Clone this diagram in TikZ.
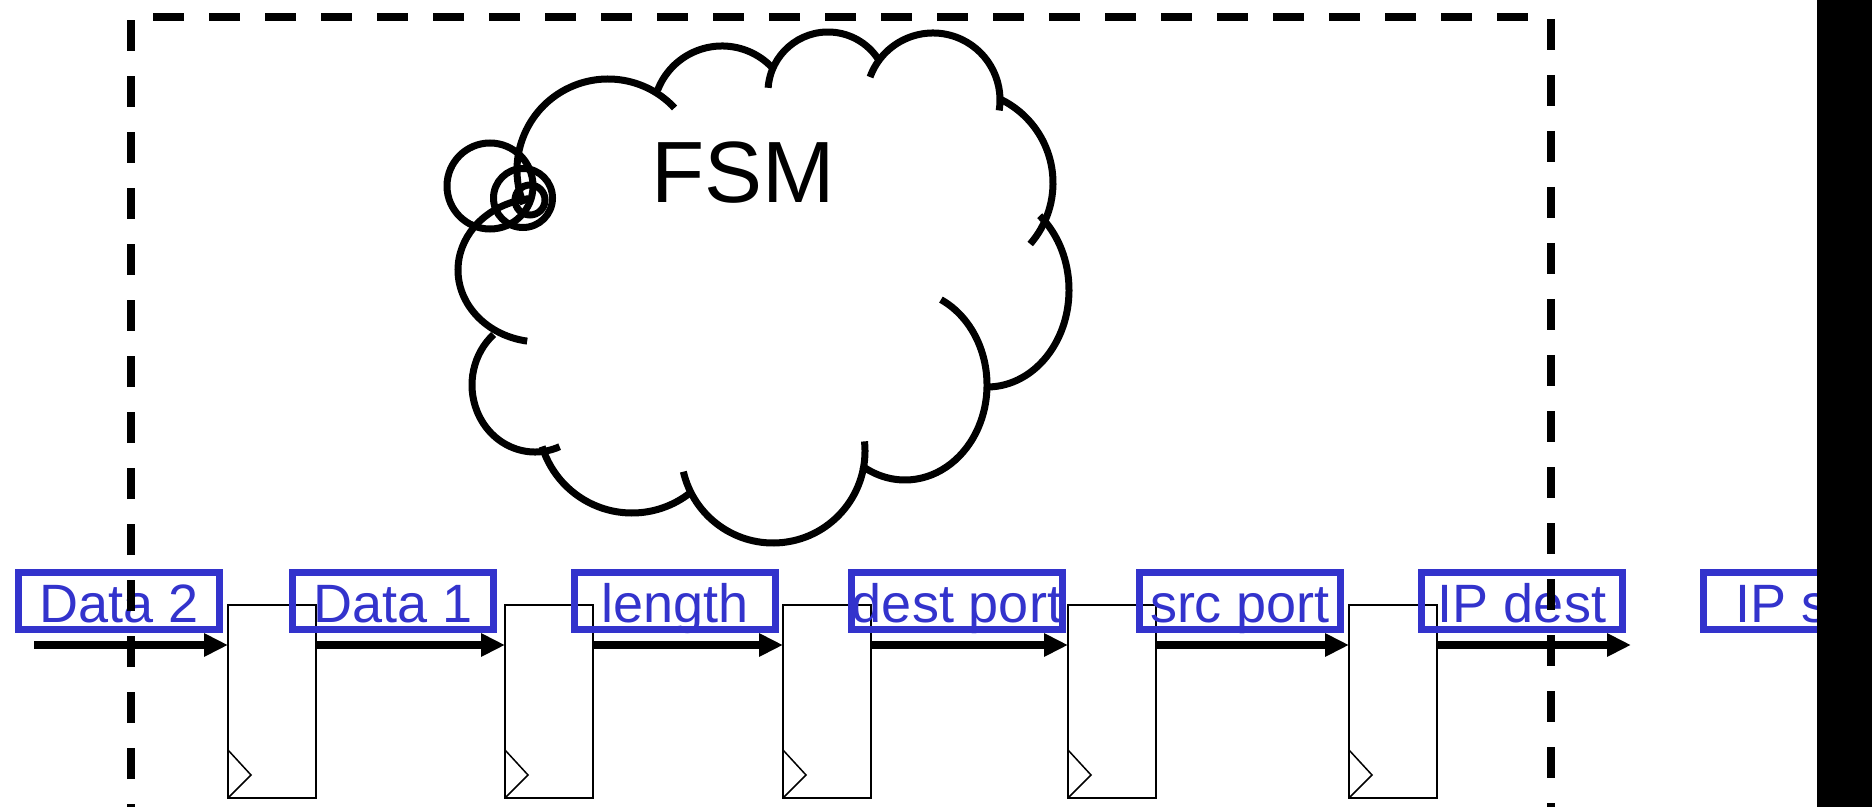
\documentclass[tikz,border=0pt]{standalone}
\usepackage{fontspec}
\setmainfont{Liberation Sans}
\usetikzlibrary{arrows.meta}
\definecolor{labelblue}{RGB}{51,51,204}
\begin{document}
\begin{tikzpicture}[x=0.5pt,y=-0.5pt,inner sep=0pt,outer sep=0pt,
lbl/.style={draw=labelblue,text=labelblue,rectangle,line width=3.5pt,minimum width=100.5pt,minimum height=28.5pt,text height=21pt,text depth=0pt,font=\fontsize{27}{27}\selectfont},
flop/.style={draw,rectangle,line width=0.75pt,minimum width=44pt,minimum height=96.5pt},
bus/.style={line width=4pt,-{Triangle[length=12pt,width=11pt]}},
cloudline/.style={line width=3.5pt},
frame/.style={line width=4pt,dash pattern=on 15.5pt off 12.5pt,dash phase=2.5pt}]
\useasboundingbox (0,0) rectangle (1872,807);
% registers
\node[flop] (ff1) at (272,701.5) {};
\node[flop] (ff2) at (549,701.5) {};
\node[flop] (ff3) at (827,701.5) {};
\node[flop] (ff4) at (1112,701.5) {};
\node[flop] (ff5) at (1393,701.5) {};
\draw[line width=0.75pt] (ff1.south west) ++(0,-48) -- ++(23,25) -- (ff1.south west);
\draw[line width=0.75pt] (ff2.south west) ++(0,-48) -- ++(23,25) -- (ff2.south west);
\draw[line width=0.75pt] (ff3.south west) ++(0,-48) -- ++(23,25) -- (ff3.south west);
\draw[line width=0.75pt] (ff4.south west) ++(0,-48) -- ++(23,25) -- (ff4.south west);
\draw[line width=0.75pt] (ff5.south west) ++(0,-48) -- ++(23,25) -- (ff5.south west);
% data path
\coordinate (in) at (34,645);
\coordinate (out) at (1631,645);
\draw[bus] (in) -- (in -| ff1.west);
\draw[bus] (ff1.east |- in) -- (ff2.west |- in);
\draw[bus] (ff2.east |- in) -- (ff3.west |- in);
\draw[bus] (ff3.east |- in) -- (ff4.west |- in);
\draw[bus] (ff4.east |- in) -- (ff5.west |- in);
\draw[bus] (ff5.east |- in) -- (out);
% header fields
\node[lbl] (d2) at (119,601) {Data 2};
\node[lbl] (d1) at (393,601) {Data 1};
\node[lbl] (len) at (675,601) {length};
\node[lbl] (dport) at (957,601) {dest port};
\node[lbl] (sport) at (1240,601) {src port};
\node[lbl] (ipd) at (1522,601) {IP dest};
\node[lbl] (ips) at (1804,601) {IP s\phantom{rc}};
% FSM cloud
\draw[cloudline] (608,170) ++(158:91) arc[start angle=158,end angle=317,radius=91];
\draw[cloudline] (722,115) ++(201:69) arc[start angle=201,end angle=317,radius=69];
\draw[cloudline] (828,92) ++(184:60) arc[start angle=184,end angle=326,radius=60];
\draw[cloudline] (933,100) ++(200:67) arc[start angle=200,end angle=369,radius=67];
\draw[cloudline] (960,183) ++(-65:93) arc[start angle=-65,end angle=41,radius=93];
\draw[cloudline] (987,290) ++(-50:82 and 97) arc[start angle=-50,end angle=90,x radius=82,y radius=97];
\draw[cloudline] (905,385) ++(-64:82 and 95) arc[start angle=-64,end angle=122,x radius=82,y radius=95];
\draw[cloudline] (773,451) ++(-6:92) arc[start angle=-6,end angle=167,radius=92];
\draw[cloudline] (632,419) ++(51:94) arc[start angle=51,end angle=163,radius=94];
\draw[cloudline] (535,385) ++(67:63 and 67) arc[start angle=67,end angle=229,x radius=63,y radius=67];
\draw[cloudline] (540,270) ++(99:82 and 72) arc[start angle=99,end angle=262,x radius=82,y radius=72];
\draw[cloudline] (490,186) circle[radius=43];
\draw[cloudline] (523,198) circle[radius=29.5];
\draw[cloudline] (530,200) circle[radius=15];
\node[font=\fontsize{43.5}{43.5}\selectfont,anchor=base] (fsm) at (743,203) {FSM};
% block boundary
\draw[frame] (131,830) -- (131,17) -- (1551,17) -- (1551,830);
\fill (1817,0) rectangle (1872,807);
\end{tikzpicture}
\end{document}
